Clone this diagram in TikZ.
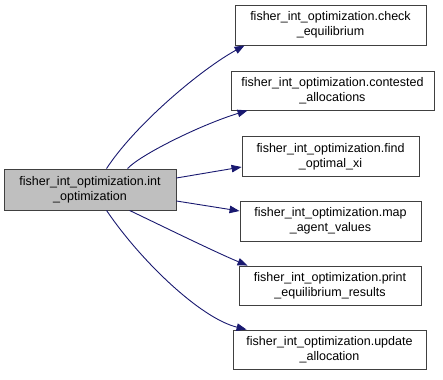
\documentclass[tikz,border=0pt]{standalone}
\usepackage{fontspec}
\setmainfont{Liberation Sans}
\usetikzlibrary{arrows.meta}
\definecolor{edgeblue}{HTML}{191970}
\definecolor{boxline}{HTML}{404040}
\definecolor{mainfill}{HTML}{BFBFBF}
\begin{document}
\begin{tikzpicture}[x=1pt,y=-1pt,
  fn/.style={draw=boxline, line width=0.9pt, fill=white, inner sep=0pt,
    align=center, font=\fontsize{12.5}{15}\selectfont},
  current/.style={fn, fill=mainfill},
  call/.style={draw=edgeblue, line width=0.9pt,
    -{Triangle[length=10pt,width=7.5pt]}, edgeblue}]
\useasboundingbox (0,0) rectangle (443,379);

% caller
\node[current, minimum width=172pt, minimum height=41pt] (main) at (90,189.5)
  {fisher\_int\_optimization.int\\\_optimization};

% callees
\node[fn, minimum width=191pt, minimum height=40pt] (check) at (330.5,25)
  {fisher\_int\_optimization.check\\\_equilibrium};
\node[fn, minimum width=203pt, minimum height=39pt] (contested) at (332.5,90.5)
  {fisher\_int\_optimization.contested\\\_allocations};
\node[fn, minimum width=177pt, minimum height=40pt] (find) at (330.5,156.5)
  {fisher\_int\_optimization.find\\\_optimal\_xi};
\node[fn, minimum width=181pt, minimum height=40pt] (map) at (330.5,221)
  {fisher\_int\_optimization.map\\\_agent\_values};
\node[fn, minimum width=182pt, minimum height=39pt] (print) at (330,285.5)
  {fisher\_int\_optimization.print\\\_equilibrium\_results};
\node[fn, minimum width=193pt, minimum height=39pt] (update) at (329.5,349.5)
  {fisher\_int\_optimization.update\\\_allocation};

% call edges
\draw[call] ([xshift=103pt]main.north west) .. controls (135,125) and (200,70) .. ([xshift=10pt]check.south west);
\draw[call] ([xshift=124pt]main.north west) .. controls (140,155) and (200,125) .. ([xshift=17pt]contested.south west);
\draw[call] ([yshift=11.5pt]main.east) -- ([yshift=-10.5pt]find.west);
\draw[call] ([yshift=-11.5pt]main.east) -- ([yshift=10pt]map.west);
\draw[call] ([xshift=126pt]main.south west) .. controls (160,225) and (215,252) .. ([xshift=9pt]print.north west);
\draw[call] ([xshift=103pt]main.south west) .. controls (140,260) and (200,318) .. ([xshift=14pt]update.north west);
\end{tikzpicture}
\end{document}
